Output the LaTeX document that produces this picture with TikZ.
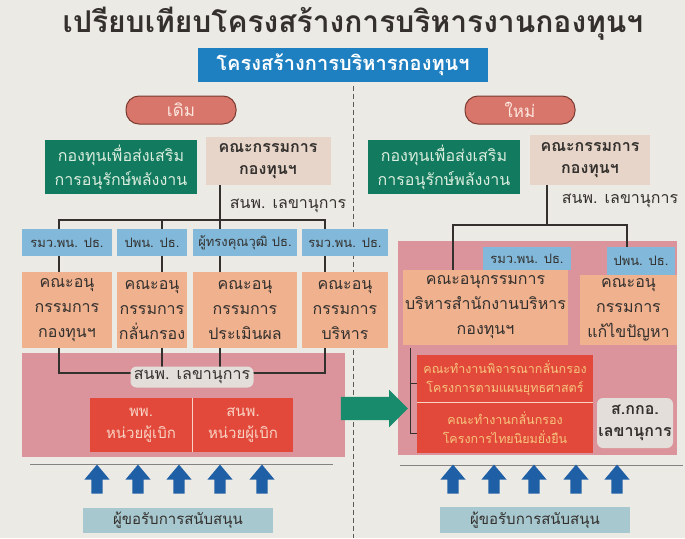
\documentclass[tikz,border=0pt]{standalone}
\usepackage{fontspec}
\usepackage{tikz}
\usetikzlibrary{shapes.arrows}
\newfontfamily\thaifont[Script=Thai]{Loma}
\definecolor{paper}{HTML}{ECEAE4}
\definecolor{textdark}{HTML}{33302E}
\definecolor{bannerblue}{HTML}{1E80C1}
\definecolor{pillred}{HTML}{D9766B}
\definecolor{pillline}{HTML}{7A3C32}
\definecolor{pilltext}{HTML}{FBE6DE}
\definecolor{fundgreen}{HTML}{127A5E}
\definecolor{fundtext}{HTML}{DCEEDF}
\definecolor{beige}{HTML}{E6D5C8}
\definecolor{chairblue}{HTML}{82B9DA}
\definecolor{peach}{HTML}{EFB18E}
\definecolor{rose}{HTML}{DB949B}
\definecolor{payred}{HTML}{E2493B}
\definecolor{paytext}{HTML}{F8D4C4}
\definecolor{worktext}{HTML}{F6C67E}
\definecolor{labelgray}{HTML}{E3DEDA}
\definecolor{arrowblue}{HTML}{1F5FA6}
\definecolor{arrowgreen}{HTML}{178B6B}
\definecolor{applyblue}{HTML}{A8C8CF}
\tikzset{
    box/.style={inner sep=0pt, align=center, text=textdark},
    fund/.style={box, fill=fundgreen, text=fundtext, font=\thaifont\fontsize{16}{24}\selectfont},
    board/.style={box, fill=beige, font=\thaifont\bfseries\fontsize{16}{22}\selectfont},
    chair/.style={box, fill=chairblue, font=\thaifont\fontsize{13}{16}\selectfont},
    subcom/.style={box, fill=peach, font=\thaifont\fontsize{16}{25}\selectfont},
    payer/.style={box, fill=payred, font=\thaifont\fontsize{15}{22}\selectfont},
    secr/.style={box, fill=labelgray, rounded corners=6pt, font=\thaifont\fontsize{16}{22}\selectfont},
    uparrow/.style={single arrow, rotate=90, fill=arrowblue, inner xsep=0pt, inner ysep=5.5pt, minimum height=29pt, single arrow head extend=7pt, single arrow tip angle=80},
    applicant/.style={box, fill=applyblue, font=\thaifont\fontsize{15}{20}\selectfont},
    pill/.style={box, fill=pillred, draw=pillline, line width=1pt, rounded corners=13pt, text=pilltext, font=\thaifont\fontsize{17}{20}\selectfont, minimum width=110pt, minimum height=28pt},
    tree/.style={draw=textdark, line width=1.1pt}
}
\begin{document}
\begin{tikzpicture}[x=1pt,y=-1pt]
    \fill[paper] (0,0) rectangle (685,538);
    \useasboundingbox (0,0) rectangle (685,538);
    \draw[textdark!80, dash pattern=on 5pt off 3pt, line width=0.8pt] (353,86) -- (353,538);
    \node[box, font=\thaifont\bfseries\fontsize{30}{34}\selectfont] (title) at (353,24) {เปรียบเทียบโครงสร้างการบริหารงานกองทุนฯ};
    \node[box, fill=bannerblue, text=white, font=\thaifont\bfseries\fontsize{20}{24}\selectfont, minimum width=290pt, minimum height=34pt] (banner) at (343,65) {โครงสร้างการบริหารกองทุนฯ};
    \node[pill] (old) at (181,110) {เดิม};
    \node[pill] (new) at (520,110) {ใหม่};

    \node[fund, minimum width=152pt, minimum height=54pt] (fundL) at (121,167) {กองทุนเพื่อส่งเสริม\\การอนุรักษ์พลังงาน};
    \node[board, minimum width=125pt, minimum height=48pt] (boardL) at (268,161) {คณะกรรมการ\\กองทุนฯ};
    \node[box, font=\thaifont\fontsize{16}{20}\selectfont] (secL) at (288,206) {สนพ. เลขานุการ};
    \node[chair, minimum width=90pt, minimum height=27pt] (cL1) at (67,242.5) {รมว.พน. ปธ.};
    \node[chair, minimum width=70pt, minimum height=27pt] (cL2) at (152,242.5) {ปพน. ปธ.};
    \node[chair, minimum width=104pt, minimum height=27pt] (cL3) at (245,242.5) {ผู้ทรงคุณวุฒิ ปธ.};
    \node[chair, minimum width=86pt, minimum height=27pt] (cL4) at (345,242.5) {รมว.พน. ปธ.};
    \node[subcom, minimum width=90pt, minimum height=76pt] (sL1) at (67,310) {คณะอนุ\\กรรมการ\\กองทุนฯ};
    \node[subcom, minimum width=70pt, minimum height=76pt] (sL2) at (152,310) {คณะอนุ\\กรรมการ\\กลั่นกรอง};
    \node[subcom, minimum width=104pt, minimum height=76pt] (sL3) at (245,310) {คณะอนุ\\กรรมการ\\ประเมินผล};
    \node[subcom, minimum width=86pt, minimum height=76pt] (sL4) at (345,310) {คณะอนุ\\กรรมการ\\บริหาร};
    \node[box, fill=rose, minimum width=323pt, minimum height=104pt] (areaL) at (183.5,405) {};
    \coordinate (jL) at (220,220);
    \coordinate (dL1) at (59,220);
    \coordinate (dL2) at (162,220);
    \coordinate (dL4) at (325,220);
    \coordinate (bL) at (59,373);
    \draw[tree] (jL |- boardL.south) -- (jL);
    \draw[tree] (dL1 |- cL1.north) |- (dL4) -- (dL4 |- cL4.north);
    \draw[tree] (dL2) -- (dL2 |- cL2.north);
    \draw[tree] (jL) -- (jL |- cL3.north);
    \draw[tree] (dL1 |- cL1.south) -- (dL1 |- sL1.north);
    \draw[tree] (dL2 |- cL2.south) -- (dL2 |- sL2.north);
    \draw[tree] (jL |- cL3.south) -- (jL |- sL3.north);
    \draw[tree] (dL4 |- cL4.south) -- (dL4 |- sL4.north);
    \draw[tree] (dL1 |- sL1.south) |- (dL4 |- bL) -- (dL4 |- sL4.south);
    \draw[tree] (dL2 |- sL2.south) -- (dL2 |- bL);
    \draw[tree] (jL |- sL3.south) -- (jL |- bL);
    \node[secr, minimum width=123pt, minimum height=21pt] (secL2) at (192,377) {สนพ. เลขานุการ};
    \node[payer, text=paytext, minimum width=102pt, minimum height=54pt] (payL1) at (141,425) {พพ.\\หน่วยผู้เบิก};
    \node[payer, text=paytext, minimum width=100pt, minimum height=54pt] (payL2) at (243,425) {สนพ.\\หน่วยผู้เบิก};
    \draw[paytext, line width=0.8pt] (payL1.north east) -- (payL1.south east);
    \draw[textdark!60, line width=1pt] (30,464) -- (333,464);
    \node[uparrow] (aL1) at (97,482.5) {};
    \node[uparrow] (aL2) at (138,482.5) {};
    \node[uparrow] (aL3) at (179,482.5) {};
    \node[uparrow] (aL4) at (220,482.5) {};
    \node[uparrow] (aL5) at (262,482.5) {};
    \node[applicant, minimum width=190pt, minimum height=25pt] (applyL) at (178,520.5) {ผู้ขอรับการสนับสนุน};

    \node[fund, minimum width=152pt, minimum height=54pt] (fundR) at (444,167) {กองทุนเพื่อส่งเสริม\\การอนุรักษ์พลังงาน};
    \node[board, minimum width=120pt, minimum height=50pt] (boardR) at (590,160) {คณะกรรมการ\\กองทุนฯ};
    \node[box, font=\thaifont\fontsize{16}{20}\selectfont] (secR) at (620,201) {สนพ. เลขานุการ};
    \node[box, fill=rose, minimum width=279pt, minimum height=214pt] (areaR) at (537.5,348) {};
    \node[chair, minimum width=88pt, minimum height=23pt] (cR1) at (527,258.5) {รมว.พน. ปธ.};
    \node[chair, minimum width=68pt, minimum height=28pt] (cR2) at (641,261) {ปพน. ปธ.};
    \node[subcom, minimum width=165pt, minimum height=75pt] (sR1) at (485.5,307.5) {คณะอนุกรรมการ\\บริหารสำนักงานบริหาร\\กองทุนฯ};
    \node[subcom, minimum width=97pt, minimum height=70pt] (sR2) at (628.5,310) {คณะอนุ\\กรรมการ\\แก้ไขปัญหา};
    \coordinate (jR) at (547,225);
    \coordinate (dR1) at (453,225);
    \coordinate (dR2) at (627,225);
    \draw[tree] (jR |- boardR.south) -- (jR);
    \draw[tree] (dR1 |- sR1.north) |- (dR2) -- (dR2 |- cR2.north);
    \node[payer, font=\thaifont\fontsize{12.5}{19}\selectfont, text=worktext, minimum width=176pt, minimum height=47pt] (payR1) at (505,378.5) {คณะทำงานพิจารณากลั่นกรอง\\โครงการตามแผนยุทธศาสตร์};
    \node[payer, font=\thaifont\fontsize{12.5}{19}\selectfont, text=worktext, minimum width=176pt, minimum height=51pt] (payR2) at (505,427.5) {คณะทำงานกลั่นกรอง\\โครงการไทยนิยมยั่งยืน};
    \draw[paytext, line width=0.8pt] (payR1.south west) -- (payR1.south east);
    \coordinate (kR) at (410,348);
    \draw[tree, line width=0.9pt] (kR) |- ([yshift=-4.5pt]payR1.west);
    \draw[tree, line width=0.9pt] (kR) |- ([yshift=-5.5pt]payR2.west);
    \node[secr, font=\thaifont\bfseries\fontsize{16}{22}\selectfont, minimum width=76pt, minimum height=50pt] (secR2) at (635,423) {ส.กกอ.\\เลขานุการ};
    \node[single arrow, fill=arrowgreen, inner xsep=0pt, inner ysep=11.5pt, minimum height=67pt, single arrow head extend=7pt] (move) at (368.5,408.5) {};
    \draw[textdark!60, line width=1pt] (400,465) -- (683,465);
    \node[uparrow] (aR1) at (453,482.5) {};
    \node[uparrow] (aR2) at (494,482.5) {};
    \node[uparrow] (aR3) at (534,482.5) {};
    \node[uparrow] (aR4) at (576,482.5) {};
    \node[uparrow] (aR5) at (617,482.5) {};
    \node[applicant, minimum width=190pt, minimum height=26pt] (applyR) at (535,520) {ผู้ขอรับการสนับสนุน};
\end{tikzpicture}
\end{document}
